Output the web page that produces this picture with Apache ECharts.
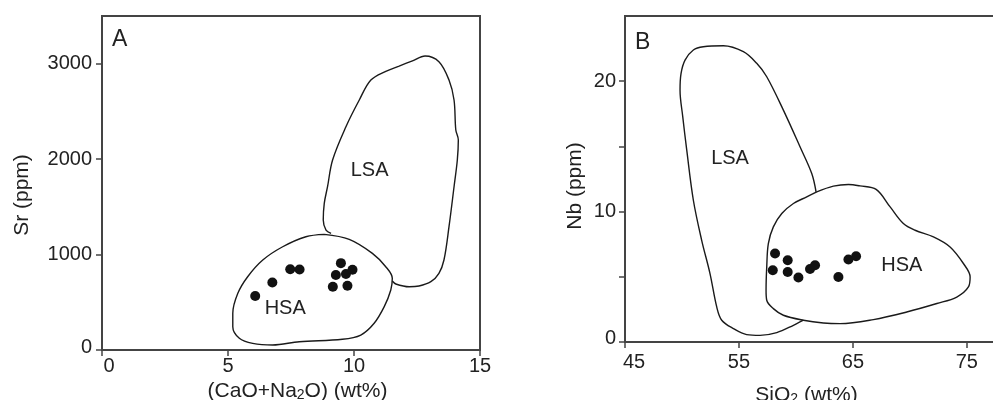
<!DOCTYPE html>
<html>
<head>
<meta charset="utf-8">
<script src="https://cdn.jsdelivr.net/npm/echarts@6/dist/echarts.min.js"></script>
<style>
html,body{margin:0;padding:0;background:#fff;}
#c{width:993px;height:400px;}
</style>
</head>
<body>
<div id="c"></div>
<script>
// ---------- Panel A : Sr vs (CaO+Na2O) ----------
const aXTicks = [0, 5, 10, 15];
const aYTicks = [0, 1000, 2000, 3000];
const aSamplesX = [6.08, 6.76, 7.47, 7.84, 9.48, 9.28, 9.68, 9.94, 9.16, 9.74];
const aSamplesY = [566, 707, 847, 844, 910, 786, 796, 841, 663, 673];
const aHSA = [
  [8.82,1212],[9.81,1160],[10.73,1013],[11.26,873],[11.52,751],[11.46,629],[11.20,454],
  [10.80,280],[10.27,157],[9.54,112],[7.83,87],[6.77,52],[5.98,70],[5.45,123],[5.19,244],
  [5.19,385],[5.39,594],[5.78,768],[6.38,943],[7.17,1082],[8.09,1187],[8.82,1212]
];
const aLSA = [
  [9.09,1223],[8.89,1257],[8.78,1362],[8.82,1537],[8.95,1711],[9.15,1991],[9.68,2340],
  [10.21,2620],[10.67,2829],[11.26,2920],[11.79,2975],[12.32,3030],[12.82,3081],
  [13.37,3021],[13.77,2829],[13.97,2620],[14.04,2305],[14.14,2201],[14.10,1991],
  [13.97,1711],[13.77,1292],[13.57,943],[13.37,804],[13.05,716],[12.58,671],[12.19,663],
  [11.66,692],[11.52,723]
];
const aFieldLabels = [['LSA', 10.62, 1880], ['HSA', 7.27, 430]];

// ---------- Panel B : Nb vs SiO2 ----------
const bXTicks = [45, 55, 65, 75];
const bYTicks = [0, 5, 10, 15, 20];
const bYLabels = [0, 10, 20];
const bSamplesX = [58.17, 57.97, 59.28, 59.28, 60.22, 61.24, 61.68, 63.73, 64.61, 65.28];
const bSamplesY = [6.78, 5.50, 6.27, 5.37, 4.94, 5.60, 5.89, 4.99, 6.32, 6.58];
const bLSA = [
  [61.77,11.51],[61.39,12.92],[60.36,14.97],[58.90,17.78],[57.44,20.34],[56.56,21.37],
  [55.39,22.26],[53.63,22.72],[51.87,22.64],[51.00,22.39],[50.27,21.62],[49.92,20.60],
  [49.83,19.32],[50.07,17.27],[50.42,14.71],[51.00,10.87],[51.73,7.80],[52.46,5.25],
  [53.05,2.69],[53.49,1.67],[54.51,1.03],[55.68,0.57],[56.85,0.51],[58.32,0.72],
  [59.78,1.28],[60.66,1.67]
];
const bHSA = [
  [61.83,11.51],[63.29,11.95],[64.61,12.08],[65.63,11.97],[67.04,11.70],[68.27,10.36],
  [69.43,9.09],[70.46,8.57],[72.07,8.06],[73.53,7.29],[74.70,6.02],[75.29,4.99],
  [75.14,4.22],[74.12,3.45],[72.37,2.95],[69.73,2.30],[66.80,1.72],[63.88,1.41],
  [62.41,1.46],[60.66,1.67],[58.90,2.05],[58.02,2.56],[57.44,3.20],[57.38,3.97],
  [57.44,5.76],[57.58,7.55],[58.02,8.83],[58.76,9.85],[59.78,10.62],[60.95,11.13],[61.83,11.51]
];
const bFieldLabels = [['LSA', 54.22, 14.1], ['HSA', 69.3, 5.9]];

const FONT = '"Liberation Sans", Arial, Helvetica, sans-serif';
const TXT = '#222';
const AXIS = '#444';

function zip(xs, ys){ return xs.map((x,i)=>[x, ys[i]]); }

function xAxisCfg(gi, min, max, ticks, name, gap, pad, labelMargin, firstShift){
  return {
    type:'value', gridIndex:gi, min:min, max:max,
    name:name, nameLocation:'middle', nameGap:gap,
    nameTextStyle:{fontFamily:FONT, fontSize:21, color:TXT, padding:pad,
      rich:{sub:{fontFamily:FONT, fontSize:14, color:TXT, verticalAlign:'bottom'}}},
    axisLine:{show:true, onZero:false, lineStyle:{color:AXIS, width:2}},
    axisTick:{show:true, inside:false, length:6, customValues:ticks, lineStyle:{color:AXIS, width:1.5}},
    axisLabel:{show:true, customValues:ticks, margin:labelMargin, fontFamily:FONT, fontSize:20, color:TXT,
      formatter: v => (v === min ? '{f|' + v + '}' : String(v)),
      rich:{f:{fontFamily:FONT, fontSize:20, color:TXT, padding:[0,0,0,firstShift]}}},
    splitLine:{show:false}
  };
}
function yAxisCfg(gi, min, max, ticks, labels, name, gap, pad, labelMargin, firstShift){
  return {
    type:'value', gridIndex:gi, min:min, max:max,
    name:name, nameLocation:'middle', nameGap:gap,
    nameTextStyle:{fontFamily:FONT, fontSize:21, color:TXT, padding:pad},
    axisLine:{show:true, onZero:false, lineStyle:{color:AXIS, width:2}},
    axisTick:{show:true, inside:false, length:6, customValues:ticks, lineStyle:{color:AXIS, width:1.5}},
    axisLabel:{show:true, customValues:labels, margin:labelMargin, fontFamily:FONT, fontSize:20, color:TXT,
      formatter: v => (v === min ? '{f|' + v + '}' : String(v)),
      rich:{f:{fontFamily:FONT, fontSize:20, color:TXT, padding:[0,0,firstShift,0]}}},
    splitLine:{show:false}
  };
}
function outline(xi, data){
  return {type:'line', xAxisIndex:xi, yAxisIndex:xi, data:data, smooth:0.35,
    symbol:'none', silent:true, lineStyle:{color:'#1a1a1a', width:1.4, opacity:1}, z:2};
}
function dots(xi, data){
  return {type:'scatter', xAxisIndex:xi, yAxisIndex:xi, data:data, symbol:'circle',
    symbolSize:10, itemStyle:{color:'#111', borderWidth:0, opacity:1}, z:3};
}
function fieldText(xi, arr){
  return {type:'scatter', xAxisIndex:xi, yAxisIndex:xi, symbolSize:0, silent:true,
    itemStyle:{opacity:1},
    data: arr.map(d=>({name:d[0], value:[d[1], d[2]]})),
    label:{show:true, position:'inside', formatter:'{b}', fontFamily:FONT, fontSize:20, color:TXT, opacity:1}, z:4};
}

const chart = echarts.init(document.getElementById('c'), null, {renderer:'canvas'});
chart.setOption({
  animation:false,
  backgroundColor:'#fff',
  grid:[
    {left:102, top:16, width:378, height:334, show:true, borderColor:AXIS, borderWidth:2, backgroundColor:'transparent', outerBoundsMode:'none', containLabel:false},
    {left:625, top:16, width:376, height:326, show:true, borderColor:AXIS, borderWidth:2, backgroundColor:'transparent', outerBoundsMode:'none', containLabel:false}
  ],
  xAxis:[
    xAxisCfg(0, 0, 15, aXTicks, '(CaO+Na{sub|2}O) (wt%)', 30, [0,0,0,13], 6, 14),
    xAxisCfg(1, 45, 78, bXTicks, 'SiO{sub|2} (wt%)', 43, [0,13,0,0], 10, 18)
  ],
  yAxis:[
    yAxisCfg(0, 0, 3500, aYTicks, aYTicks, 'Sr (ppm)', 69, [0,24,0,0], 10, 6),
    yAxisCfg(1, 0, 25, bYTicks, bYLabels, 'Nb (ppm)', 39, [0,14,0,0], 9, 8)
  ],
  graphic:[
    {type:'text', left:112, top:28, style:{text:'A', font:'23px '+FONT, fill:TXT}},
    {type:'text', left:635, top:31, style:{text:'B', font:'23px '+FONT, fill:TXT}}
  ],
  series:[
    outline(0, aHSA),
    outline(0, aLSA),
    dots(0, zip(aSamplesX, aSamplesY)),
    fieldText(0, aFieldLabels),
    outline(1, bLSA),
    outline(1, bHSA),
    dots(1, zip(bSamplesX, bSamplesY)),
    fieldText(1, bFieldLabels)
  ]
});
</script>
</body>
</html>
